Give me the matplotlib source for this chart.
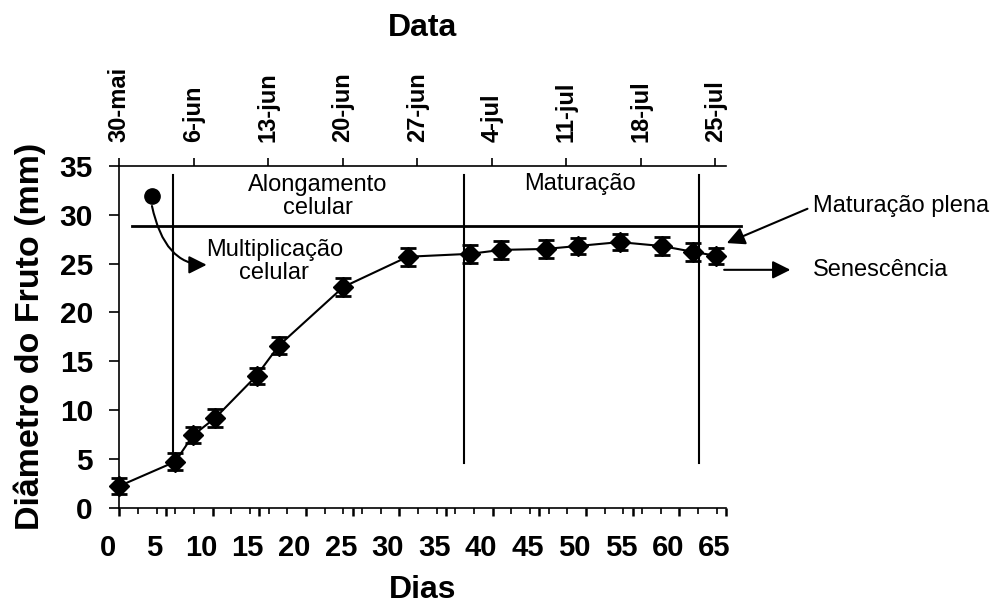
import matplotlib
matplotlib.use('Agg')
import matplotlib.pyplot as plt
import matplotlib.transforms as mtransforms
from matplotlib.ticker import FixedLocator, MultipleLocator

plt.rcParams['font.family'] = ['Liberation Sans', 'DejaVu Sans']

# ---- data ----
dias = [0, 6.0, 7.9, 10.3, 14.7, 17.1, 24.0, 30.9, 37.6, 40.9, 45.7, 49.1, 53.6, 58.1, 61.5, 63.9]
diametro = [2.2, 4.7, 7.4, 9.2, 13.5, 16.6, 22.6, 25.7, 26.0, 26.4, 26.5, 26.8, 27.2, 26.8, 26.2, 25.8]
erro = [0.8, 0.9, 0.8, 0.9, 0.8, 0.9, 0.9, 0.9, 0.9, 0.95, 0.9, 0.85, 0.8, 0.9, 0.95, 0.8]

dias_ticks = list(range(0, 70, 5))
dias_labels = [str(v) for v in dias_ticks]
y_ticks = list(range(0, 40, 5))

data_dias = [0, 7, 14, 21, 28, 35, 42, 49, 56]
data_labels = ['30-mai', '6-jun', '13-jun', '20-jun', '27-jun', '4-jul', '11-jul', '18-jul', '25-jul']

fase_limites = [5.8, 36.9, 62.1]
fase_y = (4.6, 34.1)
linha_h_y = 28.8
linha_h_x = (1.33, 66.6)

fig = plt.figure(figsize=(9.93, 6.07), dpi=100)
ax = fig.add_axes([0.12014, 0.16392, 0.61098, 0.56260])

ax.errorbar(dias, diametro, yerr=erro, fmt='-D', color='black', ms=10, lw=1.5,
            elinewidth=1.5, capsize=6, capthick=2, zorder=3, clip_on=False)

ax.set_xlim(0, 65)
ax.set_ylim(0, 35)

# phase lines
for xv in fase_limites:
    ax.plot([xv, xv], list(fase_y), color='black', lw=1.5, clip_on=False, zorder=2)
ax.plot(list(linha_h_x), [linha_h_y, linha_h_y], color='black', lw=2, clip_on=False, zorder=2)

# spines
ax.spines['right'].set_visible(False)
for s in ['left', 'bottom', 'top']:
    ax.spines[s].set_linewidth(1.2)

# bottom axis
ax.xaxis.set_major_locator(FixedLocator(dias_ticks))
ax.set_xticklabels(dias_labels)
ax.xaxis.set_minor_locator(MultipleLocator(2))
ax.tick_params(axis='x', which='major', direction='out', length=6, width=1.8,
               labelsize=21, pad=13, top=False)
ax.tick_params(axis='x', which='minor', direction='out', length=4, width=1.2, top=False)
for lab in ax.get_xticklabels():
    lab.set_fontweight('bold')
    lab.set_transform(lab.get_transform() +
                      mtransforms.ScaledTranslation(-11.5 / 100, 0, fig.dpi_scale_trans))

# left axis
ax.set_yticks(y_ticks)
ax.tick_params(axis='y', direction='out', length=7, width=1.2, labelsize=21.5, pad=12, right=False)
for lab in ax.get_yticklabels():
    lab.set_fontweight('bold')

ax.set_xlabel('Dias', fontsize=23, fontweight='bold')
ax.xaxis.label.set_va('center')
ax.xaxis.set_label_coords(0.5, -0.2416)
ax.set_ylabel('Diâmetro do Fruto (mm)', fontsize=24.5, fontweight='bold')
ax.yaxis.label.set_va('center')
ax.yaxis.set_label_coords(-0.147, 0.5)

# top axis (dates)
ax2 = ax.twiny()
ax2.set_xlim(0, 57)
ax2.set_frame_on(False)
ax2.set_xticks(data_dias)
ax2.set_xticklabels(data_labels, rotation=90, fontsize=17, fontweight='bold')
ax2.tick_params(axis='x', direction='out', length=6, width=1.2, pad=11)
ax2.set_xlabel('Data', fontsize=23, fontweight='bold')
ax2.xaxis.label.set_va('center')
ax2.xaxis.set_label_coords(0.5, 1.403)

# annotations
ax.plot([3.47], [31.9], 'o', color='black', ms=11, clip_on=False, zorder=4)
ax.annotate('', xy=(9.36, 24.87), xytext=(3.5, 30.9),
            arrowprops=dict(arrowstyle='-|>,head_length=0.6,head_width=0.3', mutation_scale=18,
                            color='black', lw=1.5, shrinkA=0, shrinkB=0,
                            connectionstyle='angle3,angleA=-78,angleB=0'))

ax.text(21.3, 31.9, 'Alongamento\ncelular', ha='center', va='center', fontsize=17,
        linespacing=1.05)
ax.text(16.6, 25.2, 'Multiplicação\ncelular', ha='center', va='center', fontsize=17,
        linespacing=1.05)
ax.text(49.3, 33.2, 'Maturação', ha='center', va='center', fontsize=17)

ax.annotate('Maturação plena', xy=(65.08, 27.1), xytext=(74.3, 30.85),
            ha='left', va='center', fontsize=17, annotation_clip=False,
            arrowprops=dict(arrowstyle='-|>,head_length=0.6,head_width=0.3', mutation_scale=18,
                            color='black', lw=1.5, shrinkA=2, shrinkB=0,
                            relpos=(0, 0.5)))
ax.annotate('', xy=(71.9, 24.36), xytext=(64.8, 24.36), annotation_clip=False,
            arrowprops=dict(arrowstyle='-|>,head_length=0.6,head_width=0.3', mutation_scale=18,
                            color='black', lw=1.5, shrinkA=0, shrinkB=0))
ax.text(74.3, 24.3, 'Senescência', ha='left', va='center', fontsize=17)

fig.savefig('out.png', dpi=100)
